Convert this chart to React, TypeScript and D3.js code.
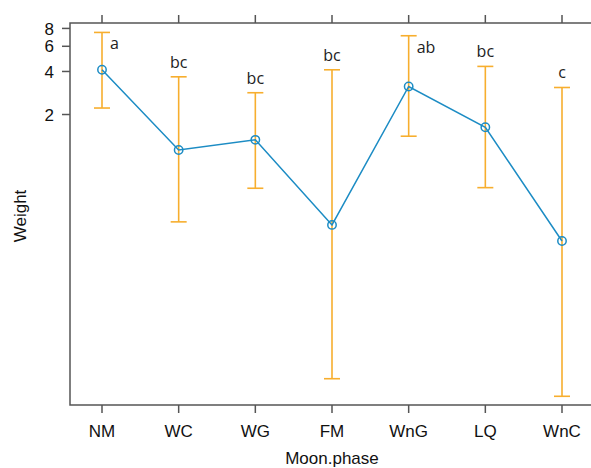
import React from "react";
import * as d3 from "d3";

const categories = ["NM", "WC", "WG", "FM", "WnG", "LQ", "WnC"];
const means = [4.11, 1.13, 1.33, 0.338, 3.14, 1.63, 0.261];
const upper = [7.5, 3.67, 2.84, 4.11, 7.11, 4.34, 3.09];
const lower = [2.22, 0.355, 0.61, 0.0284, 1.41, 0.616, 0.0214];
const letters = ["a", "bc", "bc", "bc", "ab", "bc", "c"];
const yTicks = [2, 4, 6, 8];
const sideLetters = new Set(["NM", "WnG"]);

const W = 591;
const H = 468;
const left = 70;
const top = 23;
const bottom = 405;
const right = 596;

export default function App() {
  const x = d3.scalePoint<string>().domain(categories).range([102, 562]);
  const y = d3.scaleLog().domain([0.0186, 8.73]).range([bottom, top]);
  const line = d3
    .line<number>()
    .x((_, i) => x(categories[i]) as number)
    .y((d) => y(d));
  const axisColor = "#555";
  const barColor = "#F7AE2E";
  const lineColor = "#1C8CC4";
  const font = "'Liberation Sans', Arial, sans-serif";
  return (
    <svg
      width={W}
      height={H}
      style={{ position: "absolute", left: 0, top: 0, background: "#fff" }}
    >
      <rect x={0} y={0} width={W} height={H} fill="#fff" />
      {categories.map((c, i) => {
        const cx = x(c) as number;
        return (
          <g key={"eb" + c} stroke={barColor} strokeWidth={1.6} fill="none">
            <line x1={cx} x2={cx} y1={y(upper[i])} y2={y(lower[i])} />
            <line x1={cx - 8} x2={cx + 8} y1={y(upper[i])} y2={y(upper[i])} />
            <line x1={cx - 8} x2={cx + 8} y1={y(lower[i])} y2={y(lower[i])} />
          </g>
        );
      })}
      <path d={line(means) || ""} fill="none" stroke={lineColor} strokeWidth={1.5} />
      {categories.map((c, i) => (
        <circle
          key={"pt" + c}
          cx={x(c) as number}
          cy={y(means[i])}
          r={4.2}
          fill="none"
          stroke={lineColor}
          strokeWidth={1.5}
        />
      ))}
      {categories.map((c, i) => {
        const cx = x(c) as number;
        const side = sideLetters.has(c);
        return (
          <text
            key={"lt" + c}
            x={side ? cx + 8 : cx}
            y={side ? y(upper[i]) + 17 : y(upper[i]) - 9}
            textAnchor={side ? "start" : "middle"}
            fontFamily="'Open Sans', sans-serif"
            fontSize={16}
            fill="#222"
          >
            {letters[i]}
          </text>
        );
      })}
      <rect
        x={left}
        y={top}
        width={right - left}
        height={bottom - top}
        fill="none"
        stroke={axisColor}
        strokeWidth={1.5}
      />
      {categories.map((c) => {
        const cx = x(c) as number;
        return (
          <g key={"xt" + c}>
            <line x1={cx} x2={cx} y1={bottom} y2={bottom + 8} stroke={axisColor} strokeWidth={1.5} />
            <line x1={cx} x2={cx} y1={top} y2={top - 8} stroke={axisColor} strokeWidth={1.5} />
            <text
              x={cx}
              y={bottom + 32}
              textAnchor="middle"
              fontFamily={font}
              fontSize={17}
              fill="#111"
            >
              {c}
            </text>
          </g>
        );
      })}
      {yTicks.map((t) => (
        <g key={"yt" + t}>
          <line x1={left - 8} x2={left} y1={y(t)} y2={y(t)} stroke={axisColor} strokeWidth={1.5} />
          <text
            x={left - 16}
            y={y(t)}
            dy="0.36em"
            textAnchor="end"
            fontFamily={font}
            fontSize={17}
            fill="#111"
          >
            {t}
          </text>
        </g>
      ))}
      <text
        x={332}
        y={464}
        textAnchor="middle"
        fontFamily={font}
        fontSize={17}
        fill="#111"
      >
        Moon.phase
      </text>
      <text
        transform={`translate(26,216) rotate(-90)`}
        textAnchor="middle"
        fontFamily={font}
        fontSize={17}
        fill="#111"
      >
        Weight
      </text>
    </svg>
  );
}
